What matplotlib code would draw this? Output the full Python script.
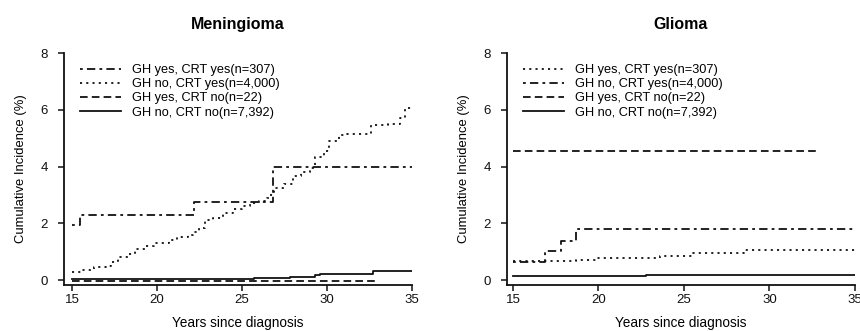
import matplotlib.pyplot as plt

plt.rcParams['font.family'] = ['Liberation Sans', 'DejaVu Sans']
plt.rcParams['lines.scale_dashes'] = False

# Meningioma curves (step functions, x = years since diagnosis, y = %)
men_a_x = [15.0, 15.5, 22.2, 26.8, 35.0]
men_a_y = [1.95, 2.3, 2.75, 4.0, 4.0]
men_b_x = [15.0, 15.6, 16.3, 17.0, 17.3, 17.7, 18.3, 18.7, 19.3, 19.8, 20.7, 21.2,
           21.8, 22.1, 22.5, 22.8, 23.3, 23.9, 24.5, 25.0, 25.5, 26.0, 26.5, 26.7,
           26.9, 27.5, 28.0, 28.5, 29.0, 29.3, 29.8, 30.1, 30.7, 31.2, 32.6, 33.6,
           34.3, 34.6, 35.0]
men_b_y = [0.28, 0.35, 0.45, 0.5, 0.65, 0.8, 0.9, 1.1, 1.2, 1.3, 1.4, 1.5,
           1.6, 1.7, 1.85, 2.1, 2.2, 2.35, 2.5, 2.6, 2.7, 2.8, 2.9, 3.1,
           3.25, 3.4, 3.65, 3.8, 3.95, 4.35, 4.55, 4.9, 5.1, 5.15, 5.45, 5.5,
           5.7, 6.05, 6.05]
men_c_x = [15.0, 32.9]
men_c_y = [-0.02, -0.02]
men_d_x = [15.0, 25.7, 27.8, 29.3, 29.6, 32.7, 35.0]
men_d_y = [0.03, 0.06, 0.1, 0.17, 0.22, 0.32, 0.32]

# Glioma curves
gli_a_x = [15.0, 18.7, 19.9, 23.6, 25.5, 28.5, 35.0]
gli_a_y = [0.67, 0.72, 0.78, 0.84, 0.94, 1.05, 1.05]
gli_b_x = [15.0, 16.9, 17.8, 18.7, 35.0]
gli_b_y = [0.65, 1.02, 1.38, 1.78, 1.78]
gli_c_x = [15.0, 32.9]
gli_c_y = [4.55, 4.55]
gli_d_x = [15.0, 22.8, 35.0]
gli_d_y = [0.15, 0.17, 0.17]

labels = ['GH yes, CRT yes(n=307)', 'GH no, CRT yes(n=4,000)',
          'GH yes, CRT no(n=22)', 'GH no, CRT no(n=7,392)']

dotdash = (0, (2, 3, 6, 3))
dotted = (0, (1.5, 3))
dashed = (0, (5.5, 3))
solid = '-'

fig = plt.figure(figsize=(8.6, 3.31), dpi=100)
W, H = 860, 331
ax1 = fig.add_axes([64 / W, 1 - 285 / H, 348 / W, 232 / H])
ax2 = fig.add_axes([507 / W, 1 - 285 / H, 348 / W, 232 / H])

panels = [
    (ax1, 'Meningioma', 14.53,
     [(men_a_x, men_a_y, dotdash), (men_b_x, men_b_y, dotted),
      (men_c_x, men_c_y, dashed), (men_d_x, men_d_y, solid)]),
    (ax2, 'Glioma', 14.65,
     [(gli_a_x, gli_a_y, dotted), (gli_b_x, gli_b_y, dotdash),
      (gli_c_x, gli_c_y, dashed), (gli_d_x, gli_d_y, solid)]),
]

for ax, title, xmin, curves in panels:
    for (xs, ys, ls), lab in zip(curves, labels):
        ax.step(xs, ys, where='post', color='#111111', lw=1.3, ls=ls, label=lab)
    ax.set_xlim(xmin, 35)
    ax.set_ylim(-0.176, 8)
    ax.set_xticks([15, 20, 25, 30, 35])
    ax.set_yticks([0, 2, 4, 6, 8])
    for s in ['top', 'right']:
        ax.spines[s].set_visible(False)
    for s in ['left', 'bottom']:
        ax.spines[s].set_linewidth(1.3)
        ax.spines[s].set_color('#111111')
    ax.tick_params(direction='out', length=4.5, width=1.1, labelsize=9.5,
                   colors='#111111')
    ax.tick_params(axis='x', pad=2)
    ax.tick_params(axis='y', pad=7)
    ax.set_title(title, fontsize=11.5, fontweight='bold', pad=17)
    ax.set_xlabel('Years since diagnosis', fontsize=9.8, labelpad=7)
    ax.set_ylabel('Cumulative Incidence (%)', fontsize=9.4, labelpad=10)
    ax.legend(loc='upper left', bbox_to_anchor=(0.046, 0.952), frameon=False,
              fontsize=9.2, handlelength=3.2, handletextpad=0.85,
              labelspacing=0.17, borderpad=0, borderaxespad=0)

fig.savefig('out.png', dpi=100)
